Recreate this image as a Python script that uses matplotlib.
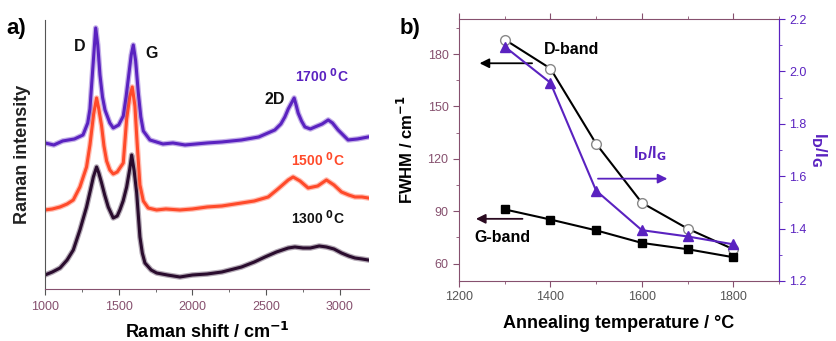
import matplotlib
matplotlib.use("Agg")
import matplotlib.pyplot as plt
from matplotlib.ticker import MultipleLocator, FormatStrFormatter

# ---------------- Panel a data (Raman spectra, arbitrary units) ----------------
shift_1700 = [1000, 1060, 1120, 1200, 1258, 1290, 1305, 1325, 1344, 1358, 1373, 1390, 1407, 1440, 1463,
              1500, 1531, 1550, 1565, 1585, 1599, 1615, 1633, 1650, 1667, 1712, 1800, 1868, 1950,
              2100, 2200, 2333, 2450, 2559, 2600, 2627, 2650, 2672, 2690, 2705, 2717, 2740, 2763,
              2800, 2831, 2880, 2921, 2950, 2988, 3056, 3120, 3192]
int_1700 = [146, 144, 148, 150, 154, 166, 180, 222, 261, 244, 214, 192, 179, 166, 161,
            164, 173, 192, 210, 234, 244, 228, 196, 172, 158, 149, 145, 146, 144,
            146, 147, 149, 152, 159, 165, 172, 180, 186, 191, 183, 176, 168, 162,
            160, 162, 165, 169, 166, 159, 149, 150, 152]

shift_1500 = [1000, 1050, 1102, 1150, 1192, 1237, 1282, 1305, 1330, 1350, 1365, 1384, 1400, 1418, 1440,
              1463, 1490, 1531, 1554, 1575, 1592, 1610, 1625, 1644, 1667, 1700, 1757, 1820, 1915,
              2000, 2100, 2200, 2333, 2420, 2514, 2580, 2650, 2683, 2730, 2785, 2850, 2909, 2960,
              3011, 3060, 3102, 3150, 3192]
int_1500 = [79, 80, 82, 85, 89, 102, 122, 144, 175, 191, 180, 163, 143, 128, 119,
            115, 117, 126, 170, 192, 202, 183, 146, 104, 88, 81, 79, 80, 79,
            80, 82, 83, 86, 88, 92, 100, 109, 112, 108, 101, 103, 109, 104,
            97, 94, 92, 92, 91]

shift_1300 = [1000, 1050, 1102, 1150, 1192, 1237, 1282, 1310, 1328, 1350, 1365, 1384, 1405, 1429, 1463,
              1490, 1508, 1530, 1554, 1575, 1588, 1605, 1622, 1644, 1660, 1678, 1720, 1757, 1830,
              1915, 2000, 2100, 2200, 2333, 2420, 2492, 2570, 2650, 2695, 2750, 2800, 2860, 2909,
              2960, 3011, 3060, 3102, 3150, 3192]
int_1300 = [14, 17, 21, 29, 39, 59, 82, 100, 112, 122, 116, 106, 94, 82, 71,
            73, 79, 88, 102, 120, 134, 118, 96, 52, 36, 26, 19, 16, 14,
            12, 14, 15, 17, 22, 27, 32, 37, 41, 42, 41, 41, 43, 42,
            40, 36, 33, 31, 30, 29]

# ---------------- Panel b data ----------------
temperature = [1300, 1400, 1500, 1600, 1700, 1800]
fwhm_D = [188.3, 171.7, 128.6, 94.8, 80.0, 68.2]
fwhm_G = [91.0, 85.2, 79.0, 71.8, 68.2, 63.6]
id_ig = [2.095, 1.957, 1.545, 1.394, 1.370, 1.340]

# colours
PURPLE = "#5a22c0"
RED = "#ff4a2a"
DARK = "#2a0c2e"
MAUVE = "#86506e"

plt.rcParams['font.family'] = ['Liberation Sans', 'DejaVu Sans']

fig = plt.figure(figsize=(8.36, 3.41), dpi=100)

# ---------------- Panel a ----------------
ax = fig.add_axes([0.0538, 0.1525, 0.388, 0.789])
for xs, ys, c in [(shift_1300, int_1300, DARK), (shift_1500, int_1500, RED), (shift_1700, int_1700, PURPLE)]:
    ax.plot(xs, ys, color=c, lw=4.0, alpha=0.35, solid_joinstyle='round')
    ax.plot(xs, ys, color=c, lw=2.2, solid_joinstyle='round')
ax.set_xlim(1000, 3200)
ax.set_ylim(0, 269)
ax.spines['top'].set_visible(False)
ax.spines['right'].set_visible(False)
ax.spines['left'].set_color('#555555')
ax.spines['bottom'].set_color(MAUVE)
ax.set_yticks([])
ax.xaxis.set_major_locator(MultipleLocator(500))
ax.xaxis.set_minor_locator(MultipleLocator(250))
ax.tick_params(axis='x', which='major', direction='out', length=4, color='#555555',
               labelsize=9, labelcolor=MAUVE, pad=5)
ax.tick_params(axis='x', which='minor', direction='out', length=2.5, color='#555555')
ax.set_xlabel("Raman shift / cm$^{\\mathbf{-1}}$", fontsize=13, fontweight='bold', labelpad=6)
ax.set_ylabel("Raman intensity", fontsize=13, fontweight='bold', color='#222222', labelpad=10)

ax.text(1237, 242, "D", fontsize=11.5, fontweight='bold', ha='center', va='center', color='#111111')
ax.text(1725, 235, "G", fontsize=11.5, fontweight='bold', ha='center', va='center', color='#111111')
ax.text(2559, 189, "2D", fontsize=11.5, fontweight='bold', ha='center', va='center', color='#111111')
ax.text(2878, 213, "1700 $^{\\mathbf{0}}$C", fontsize=10, fontweight='bold', ha='center', va='center', color=PURPLE)
ax.text(2851, 129, "1500 $^{\\mathbf{0}}$C", fontsize=10, fontweight='bold', ha='center', va='center', color=RED)
ax.text(2851, 71, "1300 $^{\\mathbf{0}}$C", fontsize=10, fontweight='bold', ha='center', va='center', color='#111111')

fig.text(0.008, 0.915, "a)", fontsize=16, fontweight='bold', ha='left', va='center')
fig.text(0.478, 0.915, "b)", fontsize=16, fontweight='bold', ha='left', va='center')

# ---------------- Panel b ----------------
bx = fig.add_axes([0.549, 0.176, 0.3828, 0.768])
bx.plot(temperature, fwhm_D, color='black', lw=1.5, marker='o', ms=7,
        markerfacecolor='white', markeredgecolor='#888888', markeredgewidth=1.0, zorder=3)
bx.plot(temperature, fwhm_G, color='black', lw=1.5, marker='s', ms=6,
        markerfacecolor='black', markeredgecolor='black', zorder=3)
bx.set_xlim(1200, 1900)
bx.set_ylim(50, 200)
bx.xaxis.set_major_locator(MultipleLocator(200))
bx.xaxis.set_minor_locator(MultipleLocator(100))
bx.yaxis.set_major_locator(MultipleLocator(30))
bx.yaxis.set_minor_locator(MultipleLocator(15))
for s in ['left', 'bottom', 'top']:
    bx.spines[s].set_color(MAUVE)
bx.spines['right'].set_color(PURPLE)
bx.tick_params(axis='both', which='major', direction='out', length=4, color=MAUVE, labelsize=9)
bx.tick_params(axis='both', which='minor', direction='out', length=2.5, color=MAUVE)
bx.tick_params(axis='x', which='both', top=True, labelcolor='#555555')
bx.tick_params(axis='y', labelcolor=MAUVE)
bx.set_xlabel("Annealing temperature / °C", fontsize=13, fontweight='bold', labelpad=8)
bx.set_ylabel("FWHM / cm$^{\\mathbf{-1}}$", fontsize=12, fontweight='bold', labelpad=8)

bx2 = bx.twinx()
bx2.plot(temperature, id_ig, color=PURPLE, lw=1.5, marker='^', ms=7,
         markerfacecolor=PURPLE, markeredgecolor=PURPLE, zorder=3)
bx2.set_ylim(1.2, 2.2)
bx2.yaxis.set_major_locator(MultipleLocator(0.2))
bx2.yaxis.set_minor_locator(MultipleLocator(0.1))
bx2.spines['right'].set_color(PURPLE)
bx2.spines['left'].set_visible(False)
bx2.spines['top'].set_visible(False)
bx2.spines['bottom'].set_visible(False)
bx2.tick_params(axis='y', which='major', direction='out', length=4, color=PURPLE,
                labelsize=9, labelcolor=PURPLE)
bx2.tick_params(axis='y', which='minor', direction='out', length=2.5, color=PURPLE)
bx2.yaxis.set_major_formatter(FormatStrFormatter('%.1f'))
bx2.set_ylabel("I$_{\\mathbf{D}}$/I$_{\\mathbf{G}}$", fontsize=12, fontweight='bold',
               color=PURPLE, rotation=-90, labelpad=16)

# annotations
bx.annotate("", xy=(1239, 174.7), xytext=(1366, 174.7),
            arrowprops=dict(arrowstyle='-|>', color='black', lw=1.3, mutation_scale=14))
bx.text(1446, 182.8, "D-band", fontsize=11.5, fontweight='bold', ha='center', va='center')
bx.annotate("", xy=(1231, 85.6), xytext=(1345, 85.6),
            arrowprops=dict(arrowstyle='-|>', color='#2a0a20', lw=1.3, mutation_scale=14))
bx.text(1296, 74.7, "G-band", fontsize=11.5, fontweight='bold', ha='center', va='center')
bx.annotate("", xy=(1662, 108.6), xytext=(1498, 108.6),
            arrowprops=dict(arrowstyle='-|>', color=PURPLE, lw=1.3, mutation_scale=14))
bx.text(1618, 123, "I$_{\\mathbf{D}}$/I$_{\\mathbf{G}}$", fontsize=11.5, fontweight='bold',
        ha='center', va='center', color=PURPLE)

fig.savefig("out.png", dpi=100)
